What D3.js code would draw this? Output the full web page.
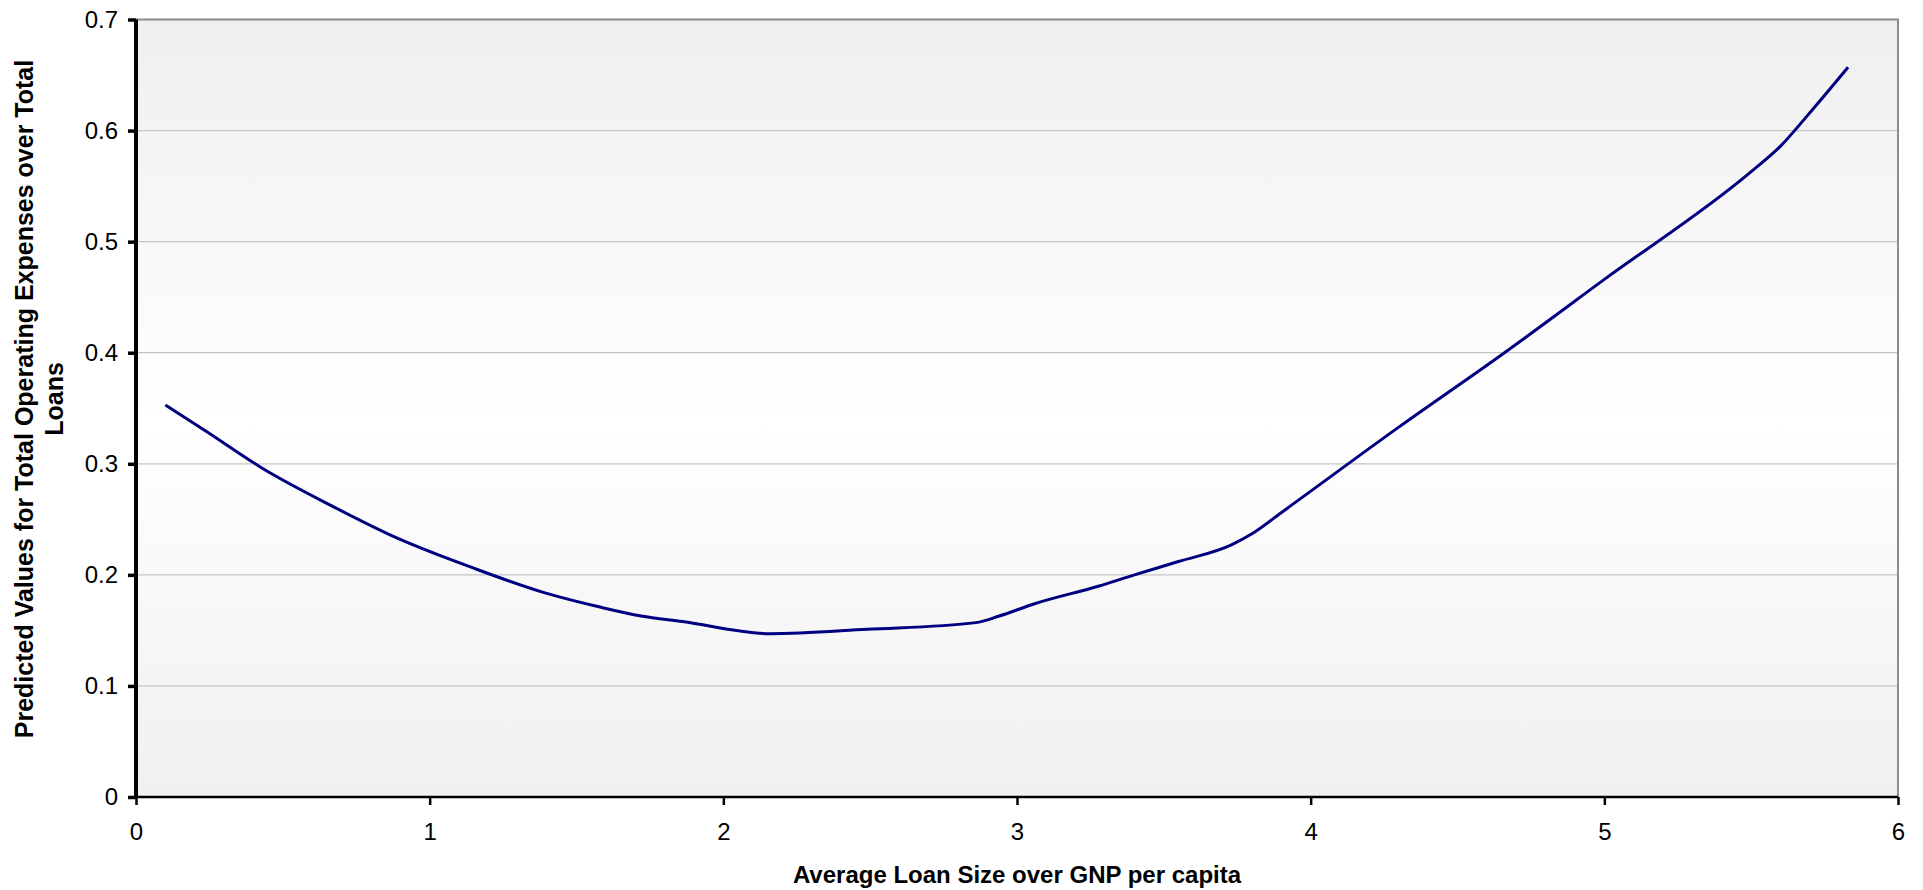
<!DOCTYPE html>
<html>
<head>
<meta charset="utf-8">
<script src="https://cdn.jsdelivr.net/npm/d3@7/dist/d3.min.js"></script>
<style>
  html, body { margin: 0; padding: 0; background: #ffffff; }
  svg { display: block; font-family: "Liberation Sans", Arial, sans-serif; }
</style>
</head>
<body>
<svg id="chart" width="1923" height="890"></svg>
<script>
// ---- data ----
const loanSize = [0.10, 0.24, 0.43, 0.66, 0.89, 1.15, 1.39, 1.58, 1.72, 1.86, 2.16, 2.49, 2.86, 2.94, 3.06, 3.28, 3.40, 3.55, 3.73, 3.80, 3.91, 4.30, 4.66, 5.00, 5.50, 5.60, 5.69, 5.83];
const predicted = [0.353, 0.329, 0.296, 0.263, 0.233, 0.206, 0.184, 0.171, 0.163, 0.158, 0.147, 0.151, 0.157, 0.163, 0.174, 0.190, 0.200, 0.212, 0.227, 0.237, 0.258, 0.333, 0.400, 0.466, 0.563, 0.586, 0.613, 0.657];
const xTicks = [0, 1, 2, 3, 4, 5, 6];
const yTicks = [0, 0.1, 0.2, 0.3, 0.4, 0.5, 0.6, 0.7];
const xTitle = "Average Loan Size over GNP per capita";
const yTitleLines = ["Predicted Values for Total Operating Expenses over Total", "Loans"];

// ---- layout ----
const svg = d3.select("#chart");
const pLeft = 136, pRight = 1898, pTop = 19.5, pBottom = 797;

const x = d3.scaleLinear().domain([0, 6]).range([pLeft, pRight]);
const y = d3.scaleLinear().domain([0, 0.7]).range([pBottom, pTop]);

// background gradient
const defs = svg.append("defs");
const grad = defs.append("linearGradient").attr("id", "bg").attr("x1", 0).attr("y1", 0).attr("x2", 0).attr("y2", 1);
grad.append("stop").attr("offset", "0%").attr("stop-color", "#efefef");
grad.append("stop").attr("offset", "52%").attr("stop-color", "#ffffff");
grad.append("stop").attr("offset", "100%").attr("stop-color", "#f0f0f0");

svg.append("rect")
  .attr("x", pLeft).attr("y", pTop)
  .attr("width", pRight - pLeft).attr("height", pBottom - pTop)
  .attr("fill", "url(#bg)");

// gridlines
svg.append("g").selectAll("line")
  .data(yTicks.filter(d => d > 0 && d < 0.7))
  .join("line")
  .attr("x1", pLeft).attr("x2", pRight)
  .attr("y1", d => y(d)).attr("y2", d => y(d))
  .attr("stroke", "#c4c4c4").attr("stroke-width", 1.2);

// top & right border (gray)
svg.append("line").attr("x1", pLeft).attr("x2", pRight + 1).attr("y1", pTop).attr("y2", pTop)
  .attr("stroke", "#8c8c8c").attr("stroke-width", 2);
svg.append("line").attr("x1", pRight).attr("x2", pRight).attr("y1", pTop).attr("y2", pBottom)
  .attr("stroke", "#8c8c8c").attr("stroke-width", 2);

// line
const line = d3.line().x((d, i) => x(loanSize[i])).y(d => y(d)).curve(d3.curveMonotoneX);
svg.append("path")
  .datum(predicted)
  .attr("d", line)
  .attr("fill", "none")
  .attr("stroke", "#000080")
  .attr("stroke-width", 3)
  .attr("stroke-linejoin", "round");

// x axis
const xAxis = d3.axisBottom(x).tickValues(xTicks).tickFormat(d3.format("d")).tickSize(8).tickPadding(18);
const gx = svg.append("g").attr("transform", `translate(0,${pBottom})`).call(xAxis);
gx.select(".domain").attr("stroke", "#000").attr("stroke-width", 2.5).attr("d", `M${pLeft},0H${pRight}`);
gx.selectAll(".tick line").attr("stroke", "#000").attr("stroke-width", 2.5);
gx.selectAll(".tick text").attr("font-size", 24).attr("fill", "#000").attr("font-family", "Liberation Sans, Arial, sans-serif");

// y axis
const yAxis = d3.axisLeft(y).tickValues(yTicks).tickFormat(d => d === 0 ? "0" : d3.format(".1f")(d)).tickSize(8).tickPadding(10);
const gy = svg.append("g").attr("transform", `translate(${pLeft},0)`).call(yAxis);
gy.select(".domain").attr("stroke", "#000").attr("stroke-width", 4).attr("d", `M0,${pTop}V${pBottom + 1}`);
gy.selectAll(".tick line").attr("stroke", "#000").attr("stroke-width", 3.5);
gy.selectAll(".tick text").attr("font-size", 24).attr("fill", "#000").attr("font-family", "Liberation Sans, Arial, sans-serif");

// x title
svg.append("text")
  .attr("x", (pLeft + pRight) / 2).attr("y", 883)
  .attr("text-anchor", "middle")
  .attr("font-size", 24).attr("font-weight", "bold").attr("fill", "#000")
  .text(xTitle);

// y title (two lines, rotated)
const yt = svg.append("text")
  .attr("transform", `translate(0,399) rotate(-90)`)
  .attr("text-anchor", "middle")
  .attr("font-size", 25).attr("font-weight", "bold").attr("fill", "#000");
yt.selectAll("tspan").data(yTitleLines).join("tspan")
  .attr("x", 0)
  .attr("y", (d, i) => 33 + i * 30)
  .text(d => d);
</script>
</body>
</html>
